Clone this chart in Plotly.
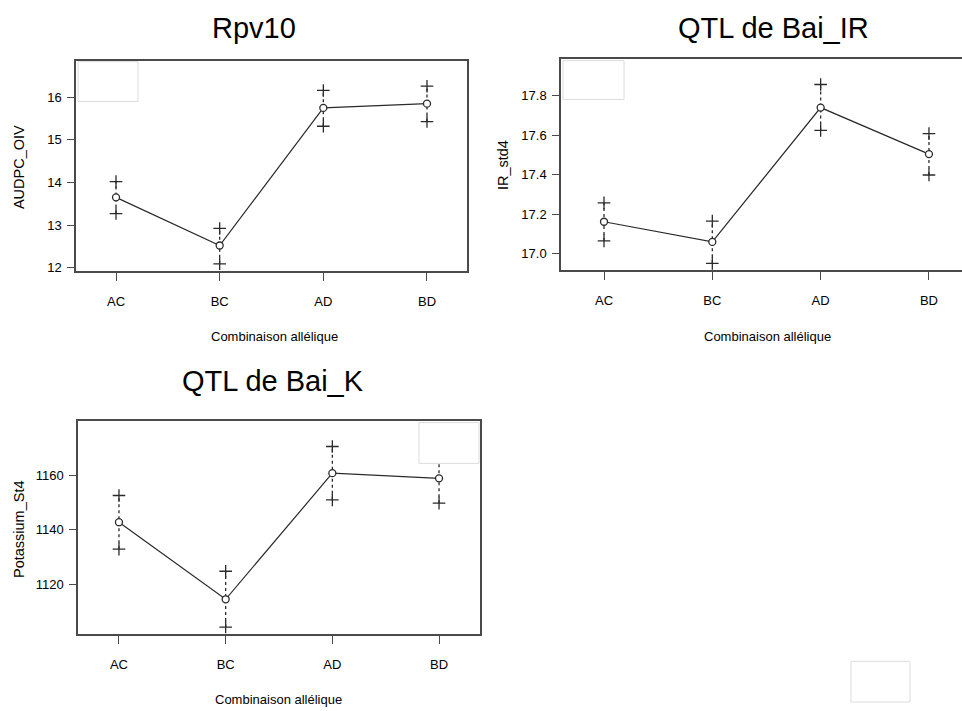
import plotly.graph_objects as go

W, H = 962, 711

categories = ["AC", "BC", "AD", "BD"]

rpv10_mean = [13.65, 12.52, 15.75, 15.85]
rpv10_upper = [14.02, 12.92, 16.16, 16.26]
rpv10_lower = [13.27, 12.09, 15.32, 15.43]

ir_mean = [17.161, 17.059, 17.740, 17.504]
ir_upper = [17.257, 17.164, 17.857, 17.608]
ir_lower = [17.064, 16.950, 17.624, 17.398]

k_mean = [1142.7, 1114.4, 1160.7, 1158.8]
k_upper = [1152.5, 1124.7, 1170.5, 1168.2]
k_lower = [1132.8, 1104.2, 1150.9, 1149.7]

titles = ["Rpv10", "QTL de Bai_IR", "QTL de Bai_K"]
ytitles = ["AUDPC_OIV", "IR_std4", "Potassium_St4"]
xtitle = "Combinaison allélique"

FONT = "Liberation Sans, Arial, Helvetica, sans-serif"
INK = "#2a2a2a"
BOX = "#4a4a4a"


def px(x):
    return x / W


def py(y):
    return 1 - y / H


fig = go.Figure()
xpos = list(range(1, len(categories) + 1))

panels = [
    (rpv10_mean, rpv10_upper, rpv10_lower, "x", "y"),
    (ir_mean, ir_upper, ir_lower, "x2", "y2"),
    (k_mean, k_upper, k_lower, "x3", "y3"),
]

for mean, up, lo, xa, ya in panels:
    # dotted interval lines
    dx, dy = [], []
    for i, xv in enumerate(xpos):
        dx += [xv, xv, None]
        dy += [lo[i], up[i], None]
    fig.add_trace(go.Scatter(x=dx, y=dy, mode="lines", xaxis=xa, yaxis=ya,
                             line=dict(color=INK, width=1.3, dash="dot"),
                             hoverinfo="skip"))
    # connecting line
    fig.add_trace(go.Scatter(x=xpos, y=mean, mode="lines", xaxis=xa, yaxis=ya,
                             line=dict(color=INK, width=1.2)))
    # interval ends (+)
    fig.add_trace(go.Scatter(x=xpos + xpos, y=up + lo, mode="markers",
                             xaxis=xa, yaxis=ya,
                             marker=dict(symbol="cross-thin", size=9,
                                         line=dict(color=INK, width=1.3))))
    # means (open circles)
    fig.add_trace(go.Scatter(x=xpos, y=mean, mode="markers", xaxis=xa, yaxis=ya,
                             marker=dict(symbol="circle", size=7, color="white",
                                         line=dict(color=INK, width=1.3))))

common_x = dict(tickvals=xpos, ticktext=categories, ticks="outside", ticklen=8,
                tickwidth=1.2, tickcolor=BOX, showline=True, linecolor=BOX,
                linewidth=1.5, mirror=True, showgrid=False, zeroline=False,
                tickfont=dict(family=FONT, size=13, color="black"),
                ticklabelstandoff=9)
common_y = dict(ticks="outside", ticklen=7, tickwidth=1.2, tickcolor=BOX,
                showline=True, linecolor=BOX, linewidth=1.5, mirror=True,
                showgrid=False, zeroline=False,
                tickfont=dict(family=FONT, size=13, color="black"),
                ticklabelstandoff=3)

fig.update_layout(
    width=W, height=H, margin=dict(l=0, r=0, t=0, b=0),
    paper_bgcolor="white", plot_bgcolor="white", showlegend=False,
    xaxis=dict(common_x, domain=[px(76), px(467)], range=[0.614, 4.386], anchor="y"),
    yaxis=dict(common_y, domain=[py(273), py(61)], range=[11.91, 16.86],
               tickvals=[12, 13, 14, 15, 16], anchor="x"),
    xaxis2=dict(common_x, domain=[px(561), 1.0], range=[0.603, 4.305], anchor="y2"),
    yaxis2=dict(common_y, domain=[py(272), py(59)], range=[16.914, 17.988],
                tickvals=[17.0, 17.2, 17.4, 17.6, 17.8], tickformat=".1f",
                anchor="x2", mirror=False),
    xaxis3=dict(common_x, domain=[px(78), px(480)], range=[0.616, 4.384], anchor="y3"),
    yaxis3=dict(common_y, domain=[py(638), py(423)], range=[1101.5, 1180],
                tickvals=[1120, 1140, 1160], anchor="x3"),
)

# titles and axis titles
ann = []
for text, (x, y) in zip(titles, [(254, 28), (773, 28), (273, 383)]):
    ann.append(dict(text=text, x=px(x), y=py(y), xref="paper", yref="paper",
                    xanchor="center", yanchor="middle", showarrow=False,
                    font=dict(family=FONT, size=29, color="black")))
for text, (x, y) in zip(ytitles, [(19, 168), (503, 166), (19, 532)]):
    ann.append(dict(text=text, x=px(x), y=py(y), xref="paper", yref="paper",
                    xanchor="center", yanchor="middle", showarrow=False,
                    textangle=-90, font=dict(family=FONT, size=14.5, color="black")))
for (x, y) in [(274, 338), (767, 338), (278, 703)]:
    ann.append(dict(text=xtitle, x=px(x), y=py(y), xref="paper", yref="paper",
                    xanchor="center", yanchor="middle", showarrow=False,
                    font=dict(family=FONT, size=13, color="black")))
fig.update_layout(annotations=ann)

# faint screenshot artefact rectangles
shapes = []
for (x0, y0, x1, y1) in [(78, 62, 138, 102), (563, 61, 624, 100),
                         (419, 425, 479, 466), (851, 665, 910, 706)]:
    shapes.append(dict(type="rect", xref="paper", yref="paper",
                       x0=px(x0), x1=px(x1), y0=py(y1), y1=py(y0),
                       fillcolor="white", line=dict(color="#dcdcdc", width=1),
                       layer="above"))
fig.update_layout(shapes=shapes)

fig.write_html("out.html",
               config={"displayModeBar": False},
               post_script="document.body.style.margin='0';"
                           "document.body.style.overflow='hidden';")
